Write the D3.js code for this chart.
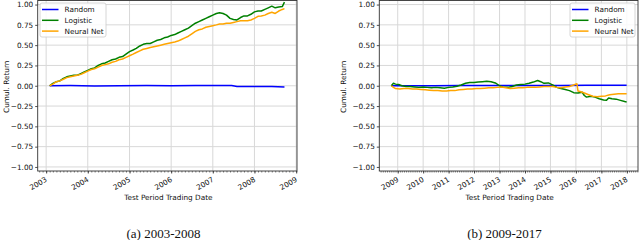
<!DOCTYPE html>
<html><head><meta charset="utf-8">
<script src="https://cdn.jsdelivr.net/npm/d3@7/dist/d3.min.js"></script>
<style>
body{margin:0;background:#fff;}
svg{display:block;}
text{font-family:"DejaVu Sans",sans-serif;}
text.caption{font-family:"Liberation Serif","Times New Roman",serif;}
</style></head>
<body>
<svg id="chart" width="640" height="240"></svg>
<script>
// ---------- DATA ----------
const seriesNames = ["Random", "Logistic", "Neural Net"];
const yTicks = [-1.0, -0.75, -0.5, -0.25, 0.0, 0.25, 0.5, 0.75, 1.0];
const captions = ["(a) 2003-2008", "(b) 2009-2017"];
const xLabel = "Test Period Trading Date";
const yLabel = "Cumul. Return";

// Panel (a) 2003-2008
const aRandom = [
 ["2003-02-01",0.0],["2003-08-01",0.002],["2004-03-01",-0.002],["2004-10-01",0.0],["2005-06-01",0.002],
 ["2006-01-01",0.0],["2006-08-01",0.003],["2007-03-01",0.004],["2007-06-15",0.002],["2007-08-01",-0.008],
 ["2008-01-01",-0.01],["2008-06-01",-0.009],["2008-09-20",-0.014]
];
const aLogistic = [
 ["2003-02-01",0.00],["2003-03-01",0.03],["2003-04-01",0.05],["2003-05-01",0.06],["2003-06-01",0.09],
 ["2003-07-01",0.11],["2003-08-01",0.12],["2003-09-01",0.13],["2003-10-01",0.13],["2003-11-01",0.15],
 ["2003-12-01",0.17],["2004-01-01",0.19],["2004-02-01",0.21],["2004-03-01",0.22],["2004-04-01",0.25],
 ["2004-05-01",0.27],["2004-06-01",0.28],["2004-07-01",0.30],["2004-08-01",0.32],["2004-09-01",0.33],
 ["2004-10-01",0.35],["2004-11-01",0.36],["2004-12-01",0.39],["2005-01-01",0.42],["2005-02-01",0.44],
 ["2005-03-01",0.46],["2005-04-01",0.49],["2005-05-01",0.51],["2005-06-01",0.52],["2005-07-01",0.52],
 ["2005-08-01",0.54],["2005-09-01",0.56],["2005-10-01",0.57],["2005-11-01",0.59],["2005-12-01",0.60],
 ["2006-01-01",0.62],["2006-02-01",0.63],["2006-03-01",0.65],["2006-04-01",0.67],["2006-05-01",0.69],
 ["2006-06-01",0.71],["2006-07-01",0.74],["2006-08-01",0.77],["2006-09-01",0.79],["2006-10-01",0.81],
 ["2006-11-01",0.83],["2006-12-01",0.85],["2007-01-01",0.87],["2007-02-01",0.89],["2007-03-01",0.90],
 ["2007-04-01",0.89],["2007-05-01",0.87],["2007-06-01",0.83],["2007-07-01",0.815],["2007-08-01",0.81],
 ["2007-09-01",0.84],["2007-10-01",0.86],["2007-11-01",0.86],["2007-12-01",0.88],["2008-01-01",0.91],
 ["2008-02-01",0.92],["2008-03-01",0.92],["2008-04-01",0.94],["2008-05-01",0.96],["2008-06-01",0.98],
 ["2008-07-01",0.96],["2008-08-01",0.97],["2008-09-01",0.975],["2008-09-20",1.03]
];
const aNeural = [
 ["2003-02-01",0.00],["2003-03-01",0.02],["2003-04-01",0.05],["2003-05-01",0.06],["2003-06-01",0.08],
 ["2003-07-01",0.10],["2003-08-01",0.11],["2003-09-01",0.12],["2003-10-01",0.13],["2003-11-01",0.14],
 ["2003-12-01",0.16],["2004-01-01",0.18],["2004-02-01",0.20],["2004-03-01",0.21],["2004-04-01",0.23],
 ["2004-05-01",0.25],["2004-06-01",0.26],["2004-07-01",0.27],["2004-08-01",0.29],["2004-09-01",0.30],
 ["2004-10-01",0.32],["2004-11-01",0.33],["2004-12-01",0.35],["2005-01-01",0.37],["2005-02-01",0.39],
 ["2005-03-01",0.41],["2005-04-01",0.43],["2005-05-01",0.45],["2005-06-01",0.46],["2005-07-01",0.47],
 ["2005-08-01",0.48],["2005-09-01",0.49],["2005-10-01",0.50],["2005-11-01",0.51],["2005-12-01",0.52],
 ["2006-01-01",0.53],["2006-02-01",0.54],["2006-03-01",0.55],["2006-04-01",0.57],["2006-05-01",0.59],
 ["2006-06-01",0.61],["2006-07-01",0.64],["2006-08-01",0.67],["2006-09-01",0.69],["2006-10-01",0.70],
 ["2006-11-01",0.72],["2006-12-01",0.73],["2007-01-01",0.74],["2007-02-01",0.75],["2007-03-01",0.76],
 ["2007-04-01",0.76],["2007-05-01",0.77],["2007-06-01",0.77],["2007-07-01",0.78],["2007-08-01",0.79],
 ["2007-09-01",0.80],["2007-10-01",0.80],["2007-11-01",0.80],["2007-12-01",0.81],["2008-01-01",0.83],
 ["2008-02-01",0.855],["2008-03-01",0.86],["2008-04-01",0.87],["2008-05-01",0.89],["2008-06-01",0.905],
 ["2008-07-01",0.89],["2008-08-01",0.92],["2008-09-01",0.94],["2008-09-20",0.95]
];

// Panel (b) 2009-2017
const bRandom = [
 ["2008-10-01",0.0],["2009-06-01",0.001],["2010-06-01",0.0],["2011-06-01",0.002],["2012-06-01",0.002],
 ["2013-06-01",0.003],["2014-06-01",0.003],["2015-06-01",0.004],["2016-06-01",0.005],["2017-12-29",0.005]
];
const bLogistic = [
 ["2008-10-01",0.00],["2008-11-01",0.03],["2008-12-01",0.02],["2009-01-15",0.015],["2009-03-01",0.00],
 ["2009-05-01",-0.01],["2009-07-01",-0.01],["2009-09-01",-0.015],["2009-11-01",-0.02],["2010-01-01",-0.015],
 ["2010-03-01",-0.02],["2010-05-01",-0.025],["2010-07-01",-0.02],["2010-09-01",-0.025],["2010-11-01",-0.03],
 ["2011-01-01",-0.02],["2011-03-01",-0.015],["2011-05-01",-0.005],["2011-07-01",0.01],["2011-09-01",0.03],
 ["2011-11-01",0.04],["2012-01-01",0.04],["2012-03-01",0.045],["2012-05-01",0.05],["2012-07-01",0.055],
 ["2012-09-01",0.05],["2012-11-01",0.035],["2013-01-01",0.00],["2013-03-01",-0.02],["2013-05-01",-0.02],
 ["2013-07-01",-0.01],["2013-09-01",0.01],["2013-11-01",0.015],["2014-01-01",0.02],["2014-03-01",0.03],
 ["2014-05-01",0.045],["2014-07-01",0.065],["2014-08-15",0.05],["2014-10-01",0.03],["2014-12-01",0.035],
 ["2015-02-01",0.01],["2015-04-01",-0.02],["2015-06-01",-0.035],["2015-08-01",-0.045],["2015-10-01",-0.06],
 ["2015-12-01",-0.085],["2016-02-01",-0.09],["2016-04-01",-0.08],["2016-05-01",-0.12],["2016-06-01",-0.14],
 ["2016-08-01",-0.13],["2016-10-01",-0.14],["2016-12-01",-0.16],["2017-02-01",-0.175],["2017-03-15",-0.18],
 ["2017-04-15",-0.15],["2017-06-01",-0.16],["2017-08-01",-0.165],["2017-10-01",-0.18],["2017-12-01",-0.195],
 ["2017-12-29",-0.20]
];
const bNeural = [
 ["2008-10-01",0.00],["2008-11-01",-0.02],["2008-12-01",-0.035],["2009-02-01",-0.04],["2009-04-01",-0.035],
 ["2009-06-01",-0.035],["2009-08-01",-0.04],["2009-10-01",-0.04],["2009-12-01",-0.045],["2010-02-01",-0.05],
 ["2010-04-01",-0.055],["2010-06-01",-0.06],["2010-08-01",-0.06],["2010-10-01",-0.065],["2010-12-01",-0.065],
 ["2011-02-01",-0.06],["2011-04-01",-0.06],["2011-06-01",-0.05],["2011-08-01",-0.045],["2011-10-01",-0.04],
 ["2011-12-01",-0.04],["2012-02-01",-0.035],["2012-04-01",-0.035],["2012-06-01",-0.03],["2012-08-01",-0.025],
 ["2012-10-01",-0.025],["2012-12-01",-0.02],["2013-02-01",-0.015],["2013-04-01",-0.025],["2013-06-01",-0.035],
 ["2013-08-01",-0.03],["2013-10-01",-0.025],["2013-12-01",-0.025],["2014-02-01",-0.02],["2014-04-01",-0.02],
 ["2014-06-01",-0.02],["2014-08-01",-0.015],["2014-10-01",-0.01],["2014-12-01",-0.01],["2015-02-01",-0.01],
 ["2015-04-01",-0.02],["2015-06-01",-0.025],["2015-08-01",-0.015],["2015-10-01",-0.01],["2015-12-01",0.01],
 ["2016-01-15",0.025],["2016-02-01",-0.065],["2016-03-01",-0.07],["2016-05-01",-0.09],["2016-07-01",-0.11],
 ["2016-09-01",-0.13],["2016-11-01",-0.135],["2017-01-01",-0.13],["2017-03-01",-0.125],["2017-05-01",-0.11],
 ["2017-07-01",-0.105],["2017-09-01",-0.10],["2017-11-01",-0.10],["2017-12-29",-0.10]
];

const xDomainA = ["2002-10-19", "2009-01-08"];
const xDomainB = ["2008-04-12", "2018-06-10"];

// ---------- DRAW ----------
const parse = d3.timeParse("%Y-%m-%d");
const colors = ["#0000ff", "#008000", "#ffa500"];
const svg = d3.select("#chart");
const FS = 7.3;

function panel(cfg) {
  const x = d3.scaleTime().domain(cfg.xDomain.map(parse)).range([cfg.left, cfg.right]);
  const y = d3.scaleLinear().domain([-1.05, 1.05]).range([cfg.bottom, cfg.top]);
  const g = svg.append("g");

  // grid
  const years = x.ticks(d3.timeYear.every(1));
  g.append("g").selectAll("line").data(years).join("line")
    .attr("x1", d => x(d)).attr("x2", d => x(d)).attr("y1", cfg.top).attr("y2", cfg.bottom)
    .attr("stroke", "#d8d8d8").attr("stroke-width", 1);
  g.append("g").selectAll("line").data(yTicks).join("line")
    .attr("x1", cfg.left).attr("x2", cfg.right).attr("y1", d => y(d)).attr("y2", d => y(d))
    .attr("stroke", "#d8d8d8").attr("stroke-width", 1);

  // lines
  const line = d3.line().x(d => x(parse(d[0]))).y(d => y(d[1]));
  cfg.series.forEach((s, i) => {
    g.append("path").datum(s).attr("d", line).attr("fill", "none")
      .attr("stroke", colors[i]).attr("stroke-width", 1.5).attr("stroke-linejoin", "round");
  });

  // y axis
  const ya = d3.axisLeft(y).tickValues(yTicks).tickSize(2.5).tickPadding(2)
    .tickFormat(d => d3.format(".2f")(d).replace("-", "\u2212"));
  const yg = g.append("g").attr("transform", `translate(${cfg.left},0)`).call(ya);
  yg.select(".domain").remove();
  yg.selectAll("text").attr("font-size", FS).attr("fill", "#111");
  yg.selectAll("line").attr("stroke", "#222").attr("stroke-width", 0.8);

  // x axis minor
  const xm = d3.axisBottom(x).ticks(d3.timeMonth.every(1)).tickSize(1.5).tickFormat("");
  const xmg = g.append("g").attr("transform", `translate(0,${cfg.bottom})`).call(xm);
  xmg.select(".domain").remove();
  xmg.selectAll("line").attr("stroke", "#222").attr("stroke-width", 0.6);
  // x axis major
  const xa = d3.axisBottom(x).ticks(d3.timeYear.every(1)).tickSize(2.5).tickFormat(d3.timeFormat("%Y"));
  const xg = g.append("g").attr("transform", `translate(0,${cfg.bottom})`).call(xa);
  xg.select(".domain").remove();
  xg.selectAll("line").attr("stroke", "#222").attr("stroke-width", 0.8);
  xg.selectAll("text").attr("font-size", FS).attr("fill", "#111")
    .attr("text-anchor", "end").attr("y", 0).attr("dy", 0)
    .attr("transform", "translate(1,10) rotate(-30)");

  // spines
  g.append("rect").attr("x", cfg.left).attr("y", cfg.top).attr("width", cfg.right - cfg.left)
    .attr("height", cfg.bottom - cfg.top).attr("fill", "none").attr("stroke", "#333").attr("stroke-width", 0.9);

  // labels
  g.append("text").attr("x", (cfg.left + cfg.right) / 2 + 1).attr("y", 199.5).attr("text-anchor", "middle")
    .attr("font-size", FS).attr("fill", "#111").text(xLabel);
  g.append("text").attr("transform", `translate(${cfg.ylabX},${(cfg.top + cfg.bottom) / 2 + 1}) rotate(-90)`)
    .attr("text-anchor", "middle").attr("font-size", FS).attr("fill", "#111").text(yLabel);
  g.append("text").attr("class", "caption").attr("x", cfg.capX).attr("y", 237.5).attr("text-anchor", "middle")
    .attr("font-size", 13).attr("fill", "#111").text(cfg.caption);

  // legend
  const L = cfg.legend;
  const lg = g.append("g");
  lg.append("rect").attr("x", L.x).attr("y", L.y).attr("width", L.w).attr("height", 34).attr("rx", 2)
    .attr("fill", "#fff").attr("fill-opacity", 0.85).attr("stroke", "#cccccc").attr("stroke-width", 0.8);
  seriesNames.forEach((n, i) => {
    const yy = L.y + 6.5 + i * 10.8;
    lg.append("line").attr("x1", L.x + 2).attr("x2", L.x + 18.5).attr("y1", yy).attr("y2", yy)
      .attr("stroke", colors[i]).attr("stroke-width", 1.5);
    lg.append("text").attr("x", L.x + 24.5).attr("y", yy + 2.6).attr("font-size", FS).attr("fill", "#111").text(n);
  });
}

panel({ xDomain: xDomainA, left: 37.7, right: 297, top: 0.5, bottom: 171,
  series: [aRandom, aLogistic, aNeural], caption: captions[0], capX: 163.5, ylabX: 9,
  legend: { x: 40, y: 3, w: 66 } });
panel({ xDomain: xDomainB, left: 379.3, right: 638, top: 0.5, bottom: 171,
  series: [bRandom, bLogistic, bNeural], caption: captions[1], capX: 504.5, ylabX: 346,
  legend: { x: 570, y: 3, w: 65 } });
</script>
</body></html>
